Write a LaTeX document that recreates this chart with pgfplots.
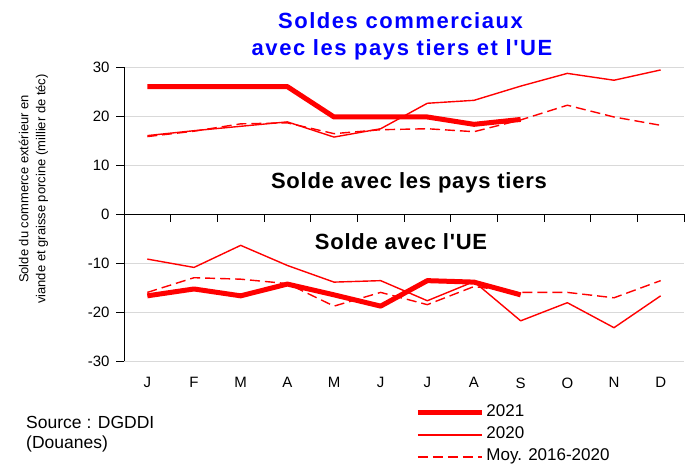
\documentclass[border=0pt]{standalone}
\usepackage{pgfplots}
\pgfplotsset{compat=1.18}
\usepackage{fontspec}
\setmainfont{Liberation Sans}
\newfontfamily\titlefont[LetterSpace=7]{Liberation Sans}
\newfontfamily\innerfont[LetterSpace=3.5]{Liberation Sans}
\definecolor{tred}{RGB}{255,0,0}
\definecolor{tblue}{RGB}{0,0,255}
\definecolor{gridgray}{RGB}{217,217,217}

\begin{document}
\begin{tikzpicture}
\useasboundingbox (-124pt,-103pt) rectangle (567pt,361pt);
\begin{axis}[
  at={(0,0)}, anchor=south west,
  scale only axis, width=560pt, height=294pt,
  xmin=0.5, xmax=12.5, ymin=-30, ymax=30,
  axis y line*=left, axis x line*=bottom,
  x axis line style={draw=none},
  y axis line style={black, line width=0.8pt},
  xtick={1,...,12}, xticklabels={J,F,M,A,M,J,J,A,S,O,N,D},
  x tick style={draw=none},
  ytick={-30,-20,...,30}, yticklabels={-30,-20,-10,0,10,20,30},
  y tick style={black, line width=0.8pt},
  tick align=outside, major tick length=8pt,
  ymajorgrids, grid style={gridgray, line width=0.8pt},
  tick label style={font=\fontsize{15}{18}\selectfont},
  xticklabel style={yshift=-5pt},
  yticklabel style={xshift=-3pt},
  legend style={at={(axis description cs:0.52,-0.142)}, anchor=north west,
    draw=none, fill=none, inner sep=0pt, row sep=2pt, column sep=0pt,
    font=\fontsize{17}{20}\selectfont,
    nodes={inner sep=2pt, text height=12pt, text depth=4pt}},
  legend cell align=left,
  legend image code/.code={\draw[#1] (0pt,0pt) -- (64pt,0pt);},
  clip=false,
]
% zero line with its ticks
\draw[black, line width=0.8pt] (axis cs:0.5,0) -- (axis cs:12.5,0);
\pgfplotsinvokeforeach{1.5,2.5,...,12.5}{
  \draw[black, line width=0.8pt] (axis cs:#1,0) -- ++(0pt,-8pt);
}

% pays tiers
\addplot[color=tred, draw=tred, line width=5pt, line join=round] coordinates {
  (1,26.0) (2,26.0) (3,26.0) (4,26.0) (5,19.8) (6,19.8) (7,19.8) (8,18.3) (9,19.3)};
\addplot[color=tred, draw=tred, line width=1.4pt, line join=round] coordinates {
  (1,16.0) (2,17.0) (3,17.9) (4,18.8) (5,15.7) (6,17.4) (7,22.6) (8,23.2) (9,26.1)
  (10,28.7) (11,27.3) (12,29.4)};
\addplot[color=tred, draw=tred, line width=1.4pt, dash pattern=on 10pt off 5pt] coordinates {
  (1,15.8) (2,16.9) (3,18.4) (4,18.6) (5,16.4) (6,17.2) (7,17.4) (8,16.8) (9,19.2)
  (10,22.2) (11,19.8) (12,18.1)};
% UE
\addplot[color=tred, draw=tred, line width=5pt, line join=round, forget plot] coordinates {
  (1,-16.7) (2,-15.3) (3,-16.7) (4,-14.3) (5,-16.5) (6,-18.8) (7,-13.6) (8,-13.9) (9,-16.5)};
\addplot[color=tred, draw=tred, line width=1.4pt, line join=round, forget plot] coordinates {
  (1,-9.2) (2,-10.9) (3,-6.4) (4,-10.5) (5,-13.9) (6,-13.6) (7,-17.7) (8,-13.8) (9,-21.8)
  (10,-18.1) (11,-23.2) (12,-16.7)};
\addplot[color=tred, draw=tred, line width=1.4pt, dash pattern=on 10pt off 5pt, forget plot] coordinates {
  (1,-16.0) (2,-13.0) (3,-13.3) (4,-14.2) (5,-18.8) (6,-16.0) (7,-18.5) (8,-14.8) (9,-16.0)
  (10,-16.0) (11,-17.1) (12,-13.6)};
\legend{2021, 2020, Moy. 2016-2020}
\end{axis}

\node[anchor=base, text=tblue, font=\titlefont\bfseries\fontsize{22}{26}\selectfont]
  at (276.5pt,332pt) {Soldes commerciaux};
\node[anchor=base, text=tblue, font=\titlefont\bfseries\fontsize{22}{26}\selectfont]
  at (278pt,305pt) {avec les pays tiers et l'UE};
\node[anchor=base, font=\innerfont\bfseries\fontsize{22}{26}\selectfont]
  at (285pt,172.7pt) {Solde avec les pays tiers};
\node[anchor=base, font=\innerfont\bfseries\fontsize{22}{26}\selectfont]
  at (277pt,111.7pt) {Solde avec l'UE};
\node[rotate=90, align=center, font=\fontsize{13}{17}\selectfont]
  at (-90.5pt,172pt) {Solde du commerce extérieur en\\viande et graisse porcine (millier de téc)};
\node[anchor=base west, font=\fontsize{17.5}{20}\selectfont] at (-101.3pt,-67pt) {Source : DGDDI};
\node[anchor=base west, font=\fontsize{17.5}{20}\selectfont] at (-101.3pt,-87pt) {(Douanes)};
\end{tikzpicture}
\end{document}
